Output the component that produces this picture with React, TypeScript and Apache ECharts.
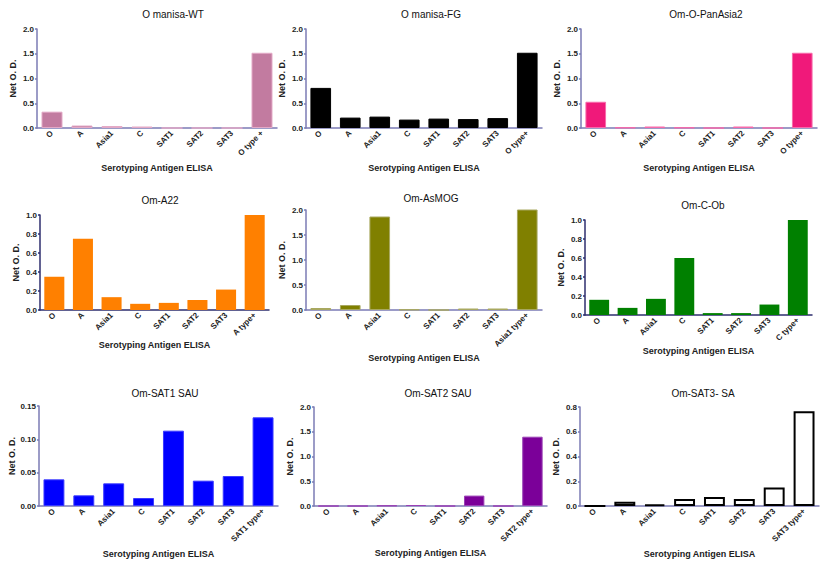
import React, { useEffect, useRef } from "react";
import * as echarts from "echarts";

// ---- data ----
const baseCats = ["O", "A", "Asia1", "C", "SAT1", "SAT2", "SAT3"];
const titles = [
  "O manisa-WT",
  "O manisa-FG",
  "Om-O-PanAsia2",
  "Om-A22",
  "Om-AsMOG",
  "Om-C-Ob",
  "Om-SAT1 SAU",
  "Om-SAT2 SAU",
  "Om-SAT3- SA",
];
const positiveLabels = [
  "O type +",
  "O type+",
  "O type+",
  "A type+",
  "Asia1 type+",
  "C type+",
  "SAT1 type+",
  "SAT2 type+",
  "SAT3 type+",
];
const omanisaWT = [0.33, 0.05, 0.04, 0.03, 0, 0, 0, 1.52];
const omanisaFG = [0.81, 0.21, 0.23, 0.17, 0.19, 0.18, 0.2, 1.52];
const omPanAsia2 = [0.53, 0.01, 0.03, 0.01, 0, 0.03, 0, 1.52];
const omA22 = [0.35, 0.75, 0.135, 0.065, 0.075, 0.105, 0.215, 1.01];
const omAsMOG = [0.04, 0.1, 1.87, 0.01, 0, 0.03, 0.03, 2.01];
const omCOb = [0.16, 0.075, 0.17, 0.6, 0.02, 0.02, 0.11, 1.01];
const omSAT1 = [0.04, 0.016, 0.034, 0.012, 0.113, 0.038, 0.045, 0.133];
const omSAT2 = [0, 0, 0.01, 0.02, 0, 0.21, 0, 1.4];
const omSAT3 = [0, 0.035, 0.012, 0.057, 0.072, 0.057, 0.15, 0.765];
const seriesValues = [omanisaWT, omanisaFG, omPanAsia2, omA22, omAsMOG, omCOb, omSAT1, omSAT2, omSAT3];
const yMax = [2, 2, 2, 1, 2, 1, 0.15, 2, 0.8];
const yStep = [0.5, 0.5, 0.5, 0.2, 0.5, 0.2, 0.05, 0.5, 0.2];
const yDecimals = [1, 1, 1, 1, 1, 1, 2, 1, 1];

// ---- styles ----
const barColors = ["#C27BA0", "#000000", "#F0197A", "#FF8000", "#808000", "#008000", "#0000FF", "#7B0099", "#FFFFFF"];
const barBorders = ["#E3A9C6", "#000000", "#F76AAA", "#FF8000", "#A8A860", "#008000", "#3B3BFF", "#9A40B5", "#000000"];
const borderWidths = [1, 1, 1, 0, 1, 0, 1, 1, 2];
const axisColors = ["#7B7BB5", "#7B7BB5", "#7B7BB5", "#2E2E6E", "#7B7BB5", "#2E2E6E", "#7B7BB5", "#7B7BB5", "#7B7BB5"];
// grid rectangles [left, top, width, height]
const grids = [
  [37, 29, 240, 99],
  [306, 29, 236, 99],
  [581, 29, 236, 99],
  [40, 215, 229, 95],
  [306, 210, 236, 100],
  [585, 220, 227, 95],
  [39, 406, 239, 100],
  [314, 407, 233, 99],
  [580, 407, 239, 99],
];
const xNameGaps = [35, 35, 35, 30, 43, 31, 43, 42, 43];
const titlePos = [
  [173, 14],
  [431, 14],
  [706, 14],
  [160, 200],
  [431, 198],
  [703, 205],
  [165, 393],
  [438, 393],
  [703, 393],
];

const FONT = "'Liberation Sans', Arial, sans-serif";

export default function App() {
  const ref = useRef<HTMLDivElement>(null);
  useEffect(() => {
    if (!ref.current) return;
    const chart = echarts.init(ref.current, null, { renderer: "svg" });
    const gridOpt: any[] = [];
    const xAxes: any[] = [];
    const yAxes: any[] = [];
    const series: any[] = [];
    const graphics: any[] = [];
    for (let i = 0; i < 9; i++) {
      const [l, t, w, h] = grids[i];
      gridOpt.push({ left: l, top: t, width: w, height: h, containLabel: false });
      const cats = [...baseCats, positiveLabels[i]];
      const ac = axisColors[i];
      xAxes.push({
        type: "category",
        gridIndex: i,
        data: cats,
        name: "Serotyping Antigen ELISA",
        nameLocation: "middle",
        nameGap: xNameGaps[i],
        nameTextStyle: { fontFamily: FONT, fontSize: 9, fontWeight: "bold", color: "#222" },
        axisLine: { lineStyle: { color: ac, width: 1.5 } },
        axisTick: { alignWithLabel: true, length: 3, lineStyle: { color: ac, width: 1.5 } },
        axisLabel: {
          interval: 0,
          rotate: 45,
          fontFamily: FONT,
          fontSize: 8,
          fontWeight: "bold",
          color: "#222",
          margin: 4,
        },
      });
      yAxes.push({
        type: "value",
        gridIndex: i,
        min: 0,
        max: yMax[i],
        interval: yStep[i],
        name: "Net O. D.",
        nameLocation: "middle",
        nameGap: 20,
        nameTextStyle: { fontFamily: FONT, fontSize: 9, fontWeight: "bold", color: "#222" },
        axisLine: { show: true, lineStyle: { color: ac, width: 1.5 } },
        axisTick: { show: true, length: 2, lineStyle: { color: ac, width: 1.5 } },
        splitLine: { show: false },
        axisLabel: {
          fontFamily: FONT,
          fontSize: 8,
          fontWeight: "bold",
          color: "#222",
          margin: 3,
          formatter: (v: number) => v.toFixed(yDecimals[i]),
        },
      });
      series.push({
        type: "bar",
        xAxisIndex: i,
        yAxisIndex: i,
        data: seriesValues[i],
        barCategoryGap: "30%",
        itemStyle: {
          color: barColors[i],
          borderColor: barBorders[i],
          borderWidth: borderWidths[i],
        },
      });
      graphics.push({
        type: "text",
        x: titlePos[i][0],
        y: titlePos[i][1],
        style: {
          text: titles[i],
          textAlign: "center",
          textVerticalAlign: "middle",
          fontFamily: FONT,
          fontSize: 10,
          fill: "#111",
        },
      });
    }
    chart.setOption({
      animation: false,
      backgroundColor: "#ffffff",
      grid: gridOpt,
      xAxis: xAxes,
      yAxis: yAxes,
      series,
      graphic: graphics,
    });
    return () => chart.dispose();
  }, []);
  return (
    <div
      ref={ref}
      style={{ position: "fixed", left: 0, top: 0, width: 826, height: 565, background: "#fff" }}
    />
  );
}
